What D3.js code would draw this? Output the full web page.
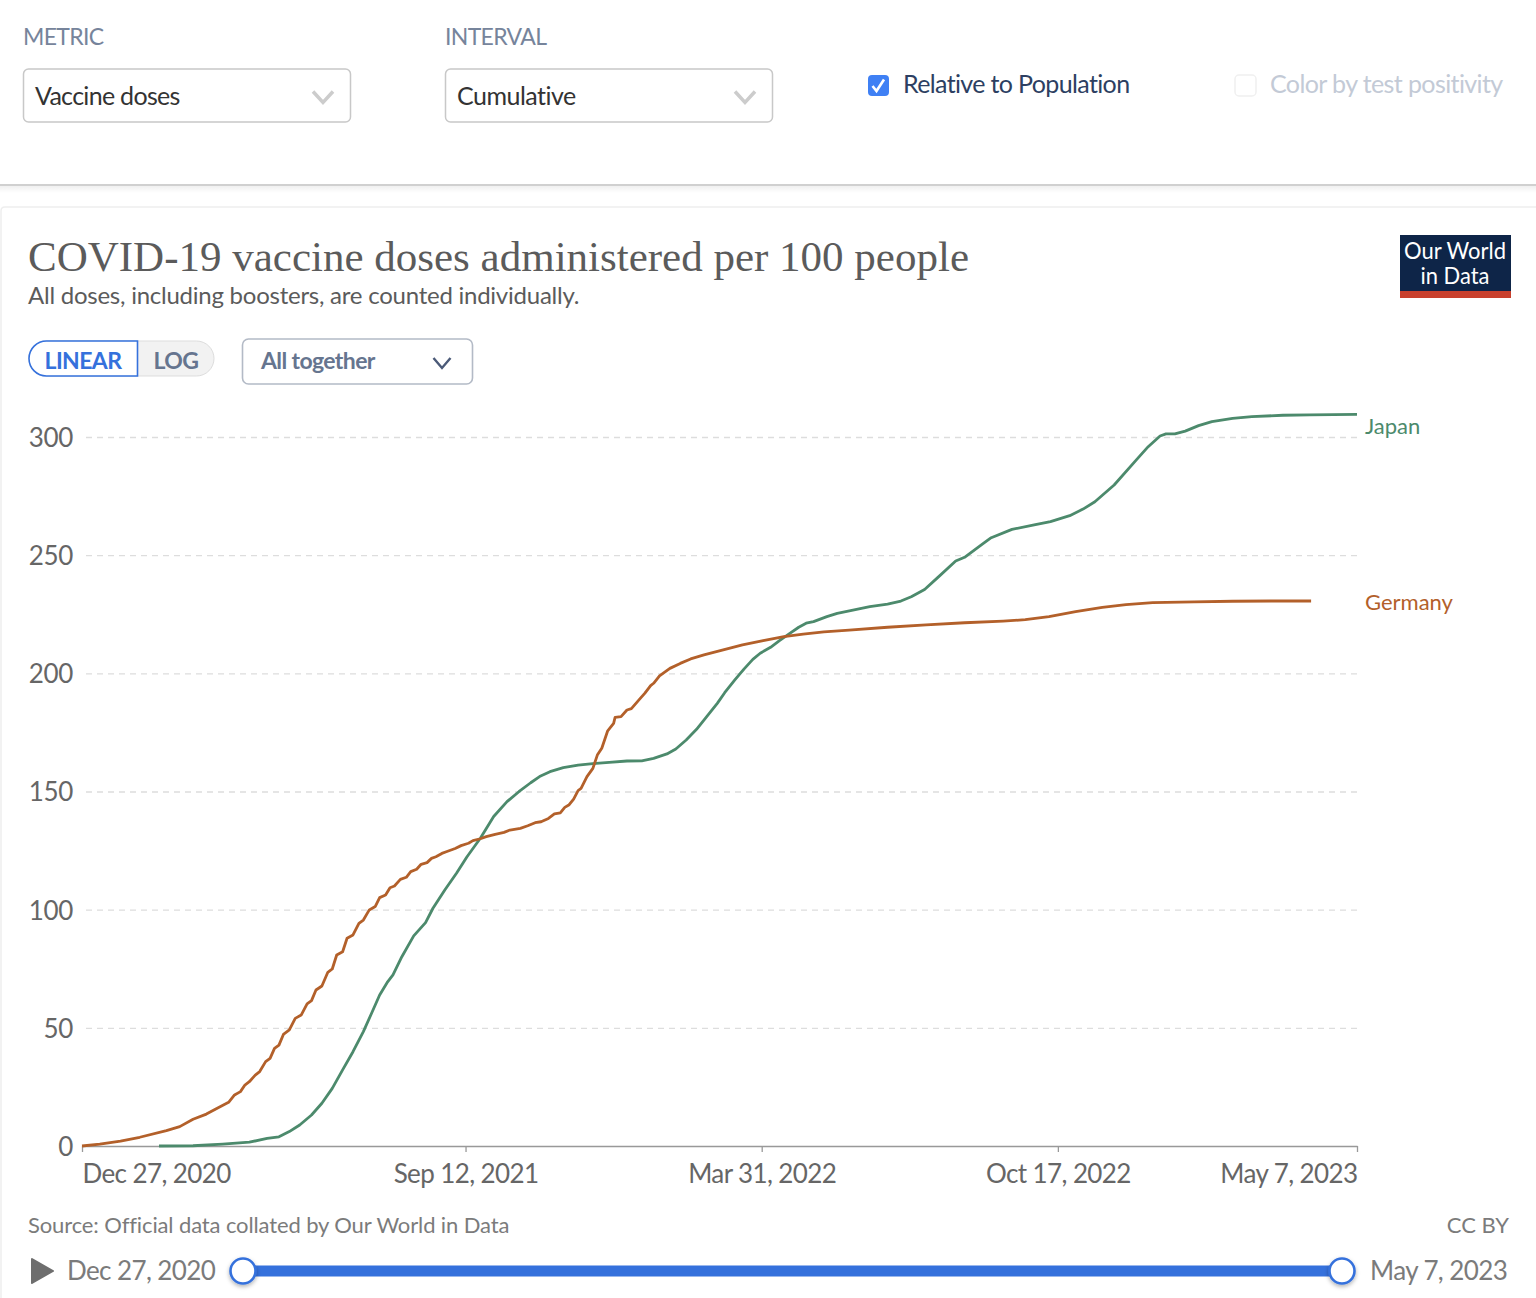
<!DOCTYPE html>
<html>
<head>
<meta charset="utf-8">
<title>COVID-19 vaccine doses administered per 100 people</title>
<script src="https://cdn.jsdelivr.net/npm/d3@7"></script>
<style>
  html, body { margin: 0; padding: 0; background: #fff; }
  svg { display: block; }
  text { font-family: Lato, "Open Sans", sans-serif; }
</style>
</head>
<body>
<div id="chart"></div>
<script>
// days since the first date, and doses per 100 people
const germanyDays = [0,12,26,39,57,66,75,84,91,99,103,107,110,113,117,120,124,127,130,133,136,140,144,148,152,155,158,162,166,169,172,176,179,183,187,190,194,198,201,205,208,211,215,219,222,226,229,233,236,239,243,246,252,256,261,264,269,273,279,285,289,296,301,306,310,315,319,323,326,329,332,335,337,341,345,348,351,355,359,360,364,368,371,377,380,384,386,390,397,404,411,420,433,446,460,474,487,501,518,544,570,596,622,637,653,671,689,705,723,751,777,803,830];
const germanyDoses = [0,0.8,2.1,3.7,6.5,8.2,11.3,13.5,15.9,18.5,21.6,23,25.8,27.2,30,31.5,35.7,37.1,41.3,42.7,47.2,49.1,54,55.4,60.1,61.5,66,67.7,73.5,74.9,80.8,82.2,87.9,89.3,94.2,95.6,99.9,101.3,105.1,106.2,109.3,110,112.8,113.7,116.1,117.1,119.2,119.9,121.7,122.4,123.8,124.5,125.9,127.1,128.1,129.2,130,130.9,131.9,132.7,133.7,134.4,135.5,136.8,137.2,138.6,140.5,141,143.3,144.4,146.8,150.4,151.3,156.3,159.8,165.4,168.3,175.7,178.8,181.4,181.7,184.5,185.1,189.4,191.5,194.8,195.8,198.9,202.1,204.2,206.1,207.8,209.9,212,213.8,215.5,216.6,217.5,218.3,219.5,220.5,221.4,222.1,222.7,224,226.1,227.9,229.1,229.9,230.2,230.5,230.6,230.6];
const japanDays = [52,75,95,113,125,133,140,147,155,162,169,176,183,190,196,201,206,210,216,224,232,237,245,253,260,269,278,287,295,303,309,316,325,335,345,356,368,378,386,395,401,408,415,422,429,434,441,447,453,458,465,471,478,484,489,494,503,510,519,532,544,553,560,569,578,590,596,608,614,628,643,654,667,676,684,697,712,720,728,732,738,745,754,763,777,790,811,829,861];
const japanDoses = [0,0.1,0.8,1.6,3.2,3.9,6.1,8.9,13.1,18.1,24.4,32.2,39.9,48.4,56.8,63.9,69.1,72.4,80.1,88.9,94.5,100.6,108.3,115.5,122.4,130.2,139.4,145.7,149.9,153.7,156.3,158.4,160.1,161.2,161.8,162.3,162.9,163,164,165.9,168,171.8,176.3,181.8,187.3,191.8,197.3,201.8,205.9,208.5,211,213.8,216.9,219.5,221.2,221.9,224,225.4,226.5,228.2,229.3,230.6,232.4,235.5,240.6,247.5,249.1,254.7,257.4,260.9,262.8,264.2,266.7,269.5,272.6,279.7,290.3,295.9,300.4,301.3,301.3,302.5,304.8,306.5,307.9,308.6,309.2,309.4,309.6];

const startDate = new Date(Date.UTC(2020, 11, 27));
const endDate = new Date(Date.UTC(2023, 4, 7));
const tickDates = [startDate, new Date(Date.UTC(2021, 8, 12)), new Date(Date.UTC(2022, 2, 31)), new Date(Date.UTC(2022, 9, 17)), endDate];
const yTicks = [0, 50, 100, 150, 200, 250, 300];

const formatDate = d3.utcFormat('%b %-d, %Y');
const width = 1536;
const height = 1298;
const ink = '#666';

const svg = d3.select('#chart').append('svg')
  .attr('width', width)
  .attr('height', height)
  .attr('viewBox', `0 0 ${width} ${height}`);

const defs = svg.append('defs');
const blur = defs.append('filter').attr('id', 'knobShadow').attr('x', '-50%').attr('y', '-50%').attr('width', '200%').attr('height', '200%');
blur.append('feDropShadow').attr('dx', 0).attr('dy', 2).attr('stdDeviation', 2).attr('flood-color', '#000').attr('flood-opacity', 0.3);
const barShadow = defs.append('linearGradient').attr('id', 'barShadow').attr('x1', 0).attr('x2', 0).attr('y1', 0).attr('y2', 1);
barShadow.append('stop').attr('offset', 0).attr('stop-color', '#000').attr('stop-opacity', 0.06);
barShadow.append('stop').attr('offset', 1).attr('stop-color', '#000').attr('stop-opacity', 0);

const label = (parent, x, y, string, size, fill, anchor = 'start', spacing = 0) => parent.append('text')
  .attr('x', x)
  .attr('y', y)
  .attr('font-size', size)
  .attr('fill', fill)
  .attr('text-anchor', anchor)
  .style('letter-spacing', `${spacing}px`)
  .text(string);

const chevron = (parent, x, y, w, h, stroke, strokeWidth) => parent.append('path')
  .attr('d', `M${x - w},${y - h}L${x},${y + h}L${x + w},${y - h}`)
  .attr('fill', 'none')
  .attr('stroke', stroke)
  .attr('stroke-width', strokeWidth);

// control bar above the chart
const controls = svg.append('g');
label(controls, 23, 45, 'METRIC', 23, '#76849b', 'start', -0.67);
label(controls, 445, 45, 'INTERVAL', 23, '#76849b', 'start', -0.66);
[[23, 'Vaccine doses', -0.7], [445, 'Cumulative', -0.5]].forEach(([x, name, spacing]) => {
  controls.append('rect')
    .attr('x', x + 0.5).attr('y', 69).attr('width', 327).attr('height', 53).attr('rx', 5)
    .attr('fill', '#fff').attr('stroke', '#c8c8c8').attr('stroke-width', 1.5);
  label(controls, x + 12, 105, name, 25, '#333', 'start', spacing);
  chevron(controls, x + 300, 97, 10, 5.5, '#ccc', 3.5);
});
controls.append('rect')
  .attr('x', 868).attr('y', 75).attr('width', 21).attr('height', 21).attr('rx', 4)
  .attr('fill', '#3f80f4');
controls.append('path')
  .attr('d', 'M872.5,86L876.5,91L884,79.5')
  .attr('fill', 'none').attr('stroke', '#fff').attr('stroke-width', 2.6);
label(controls, 903, 93, 'Relative to Population', 25, '#2d3f62', 'start', -0.64);
controls.append('rect')
  .attr('x', 1235).attr('y', 75).attr('width', 21).attr('height', 21).attr('rx', 4)
  .attr('fill', '#fff').attr('stroke', '#f0f0f0').attr('stroke-width', 1.5);
label(controls, 1270, 93, 'Color by test positivity', 25, '#c3cad6', 'start', -0.6);
controls.append('rect').attr('x', 0).attr('y', 184).attr('width', width).attr('height', 2).attr('fill', '#d0d0d0');
controls.append('rect').attr('x', 0).attr('y', 186).attr('width', width).attr('height', 7).attr('fill', 'url(#barShadow)');

// card outline
svg.append('path')
  .attr('d', `M1,${height}V211Q1,207 5,207H${width}`)
  .attr('fill', 'none')
  .attr('stroke', '#eee')
  .attr('stroke-width', 1.5);

// heading
label(svg, 28, 271, 'COVID-19 vaccine doses administered per 100 people', 43, '#5b5b5b')
  .style('font-family', '"Liberation Serif", serif')
  .attr('textLength', 941)
  .attr('lengthAdjust', 'spacingAndGlyphs');
label(svg, 28, 304, 'All doses, including boosters, are counted individually.', 24, '#5b5b5b', 'start', -0.24);

// logo
const logo = svg.append('g');
logo.append('rect').attr('x', 1400).attr('y', 235).attr('width', 111).attr('height', 63).attr('fill', '#0e2548');
logo.append('rect').attr('x', 1400).attr('y', 291).attr('width', 111).attr('height', 7).attr('fill', '#c8402d');
label(logo, 1455, 259, 'Our World', 23, '#fff', 'middle').attr('textLength', 102).attr('lengthAdjust', 'spacingAndGlyphs');
label(logo, 1455, 284, 'in Data', 23, '#fff', 'middle').attr('textLength', 69).attr('lengthAdjust', 'spacingAndGlyphs');

// linear / log switch and facet selector
const switches = svg.append('g');
switches.append('rect')
  .attr('x', 29).attr('y', 341).attr('width', 185).attr('height', 35).attr('rx', 17.5)
  .attr('fill', '#f2f2f2').attr('stroke', '#ddd');
switches.append('path')
  .attr('d', 'M137.5,341H46.5A17.5,17.5 0 0 0 46.5,376H137.5Z')
  .attr('fill', '#fff').attr('stroke', '#3571dc').attr('stroke-width', 1.6);
label(switches, 83, 369, 'LINEAR', 23, '#3571dc', 'middle', -0.6).attr('font-weight', 700);
label(switches, 176, 369, 'LOG', 23, '#66758f', 'middle', -0.6).attr('font-weight', 700);
switches.append('rect')
  .attr('x', 242.5).attr('y', 339).attr('width', 230).attr('height', 45).attr('rx', 6)
  .attr('fill', '#fff').attr('stroke', '#b3bac6').attr('stroke-width', 1.6);
label(switches, 261, 369, 'All together', 23, '#66758f', 'start', -0.6).attr('font-weight', 700);
chevron(switches, 442, 363, 8.5, 5, '#4b5a78', 2.4);

// scales
const x = d3.scaleUtc().domain([startDate, endDate]).range([82, 1357]);
const y = d3.scaleLinear().domain([0, 300]).range([1146, 437]);

// y axis with dashed grid lines
const yAxis = svg.append('g')
  .attr('transform', 'translate(82,0)')
  .call(d3.axisLeft(y).tickValues(yTicks).tickSize(-1275).tickPadding(9));
yAxis.select('.domain').remove();
yAxis.selectAll('line')
  .attr('stroke', '#ddd')
  .attr('stroke-width', 1.4)
  .attr('stroke-dasharray', '6,5')
  .attr('stroke-dashoffset', -4);
yAxis.selectAll('text')
  .attr('font-size', 26)
  .attr('fill', ink)
  .attr('dy', '0.36em')
  .style('font-family', 'Lato')
  .style('letter-spacing', '-0.3px');
yAxis.selectAll('.tick').filter(d => d === 0).select('line').remove();

// x axis
const xAxis = svg.append('g')
  .attr('transform', 'translate(0,1146)')
  .call(d3.axisBottom(x).tickValues(tickDates).tickFormat(formatDate).tickSize(6).tickSizeOuter(0).tickPadding(13));
xAxis.select('.domain').attr('stroke', '#999').attr('stroke-width', 1.5);
xAxis.selectAll('line').attr('stroke', '#999').attr('stroke-width', 1.3);
xAxis.selectAll('text')
  .attr('font-size', 26)
  .attr('fill', ink)
  .style('font-family', 'Lato')
  .style('letter-spacing', '-0.6px');
xAxis.selectAll('.tick').filter(d => d === startDate).select('text').attr('text-anchor', 'start');
xAxis.selectAll('.tick').filter(d => d === endDate).select('text').attr('text-anchor', 'end');

// series
const line = d3.line()
  .x(d => x(d3.utcDay.offset(startDate, d[0])))
  .y(d => y(d[1]));
const seriesList = [
  { name: 'Germany', days: germanyDays, doses: germanyDoses, color: '#b3602a', labelY: 610 },
  { name: 'Japan', days: japanDays, doses: japanDoses, color: '#4c8a6c', labelY: 434 },
];
seriesList.slice().reverse().forEach(s => {
  svg.append('path')
    .datum(d3.zip(s.days, s.doses))
    .attr('d', line)
    .attr('fill', 'none')
    .attr('stroke', s.color)
    .attr('stroke-width', 2.8)
    .attr('stroke-linejoin', 'round');
  label(svg, 1365, s.labelY, s.name, 22, s.color);
});

// footer
label(svg, 28, 1233, 'Source: Official data collated by Our World in Data', 22, '#7b7b7b', 'start', -0.12);
label(svg, 1509, 1233, 'CC BY', 22, '#7b7b7b', 'end');

// timeline
const timeline = svg.append('g');
timeline.append('path').attr('d', 'M32,1259L53,1271L32,1283Z').attr('fill', '#6e6e6e').attr('stroke', '#6e6e6e').attr('stroke-width', 2).attr('stroke-linejoin', 'round');
label(timeline, 67, 1280, formatDate(startDate), 26, '#7b7b7b', 'start', -0.6);
label(timeline, 1370, 1280, formatDate(endDate), 26, '#7b7b7b', 'start', -0.6);
const slider = d3.scaleUtc().domain([startDate, endDate]).range([243, 1342]);
timeline.append('line')
  .attr('x1', slider(startDate)).attr('x2', slider(endDate))
  .attr('y1', 1271).attr('y2', 1271)
  .attr('stroke', '#3571dc').attr('stroke-width', 11);
timeline.selectAll('circle')
  .data([startDate, endDate])
  .join('circle')
  .attr('cx', d => slider(d))
  .attr('cy', 1271)
  .attr('r', 12.5)
  .attr('fill', '#fff')
  .attr('stroke', '#3571dc')
  .attr('stroke-width', 2.6)
  .attr('filter', 'url(#knobShadow)');
</script>
</body>
</html>
